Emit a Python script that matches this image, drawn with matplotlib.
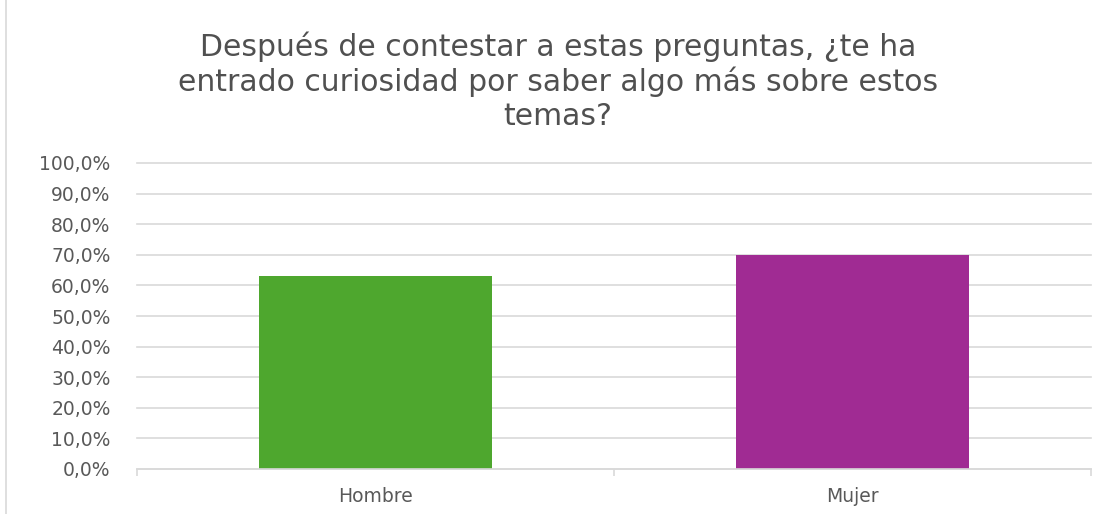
import matplotlib
matplotlib.use("Agg")
import matplotlib.pyplot as plt
from matplotlib.ticker import FixedLocator, FuncFormatter
from matplotlib.lines import Line2D

plt.rcParams['font.family'] = ['DejaVu Sans']

categories = ["Hombre", "Mujer"]
values = [63.0, 70.0]
colors = ["#4ea72e", "#a02b93"]
title = "Después de contestar a estas preguntas, ¿te ha\nentrado curiosidad por saber algo más sobre estos\ntemas?"
yticks = [0, 10, 20, 30, 40, 50, 60, 70, 80, 90, 100]

fig = plt.figure(figsize=(11.16, 5.14), dpi=100)
ax = fig.add_axes([137/1116, 1 - 469/514, (1091 - 137)/1116, (469 - 163)/514])

x = list(range(len(categories)))
ax.bar(x, values, width=0.49, color=colors, zorder=3)
ax.set_xlim(-0.5, len(categories) - 0.5)
ax.set_ylim(0, 100)
ax.yaxis.set_major_locator(FixedLocator(yticks))
ax.yaxis.set_major_formatter(FuncFormatter(lambda v, p: f"{v:.1f}".replace(".", ",") + "%"))
ax.grid(axis="y", color="#d9d9d9", linewidth=1.2, zorder=0)
for gl in ax.get_ygridlines():
    gl.set_clip_on(False)
for s in ["top", "right", "left"]:
    ax.spines[s].set_visible(False)
ax.spines["bottom"].set_color("#d9d9d9")
ax.spines["bottom"].set_linewidth(1.2)
ax.spines["bottom"].set_zorder(4)

ax.set_xticks(x)
ax.set_xticklabels(categories)
ax.set_xticks([-0.5, 0.5, 1.5], minor=True)
ax.tick_params(axis="x", which="major", length=0, pad=13, labelsize=13.5, labelcolor="#595959")
ax.tick_params(axis="x", which="minor", length=5, color="#d9d9d9", width=1.2)
ax.tick_params(axis="y", length=0, pad=19, labelsize=13.5, labelcolor="#595959")

fig.text(0.5, 1 - 81/514, title, ha="center", va="center", fontsize=21.5,
         color="#505050", linespacing=1.2)

fig.add_artist(Line2D([6/1116, 6/1116], [0, 1], color="#d9d9d9", linewidth=1.2))

fig.savefig("out.png", dpi=100)
